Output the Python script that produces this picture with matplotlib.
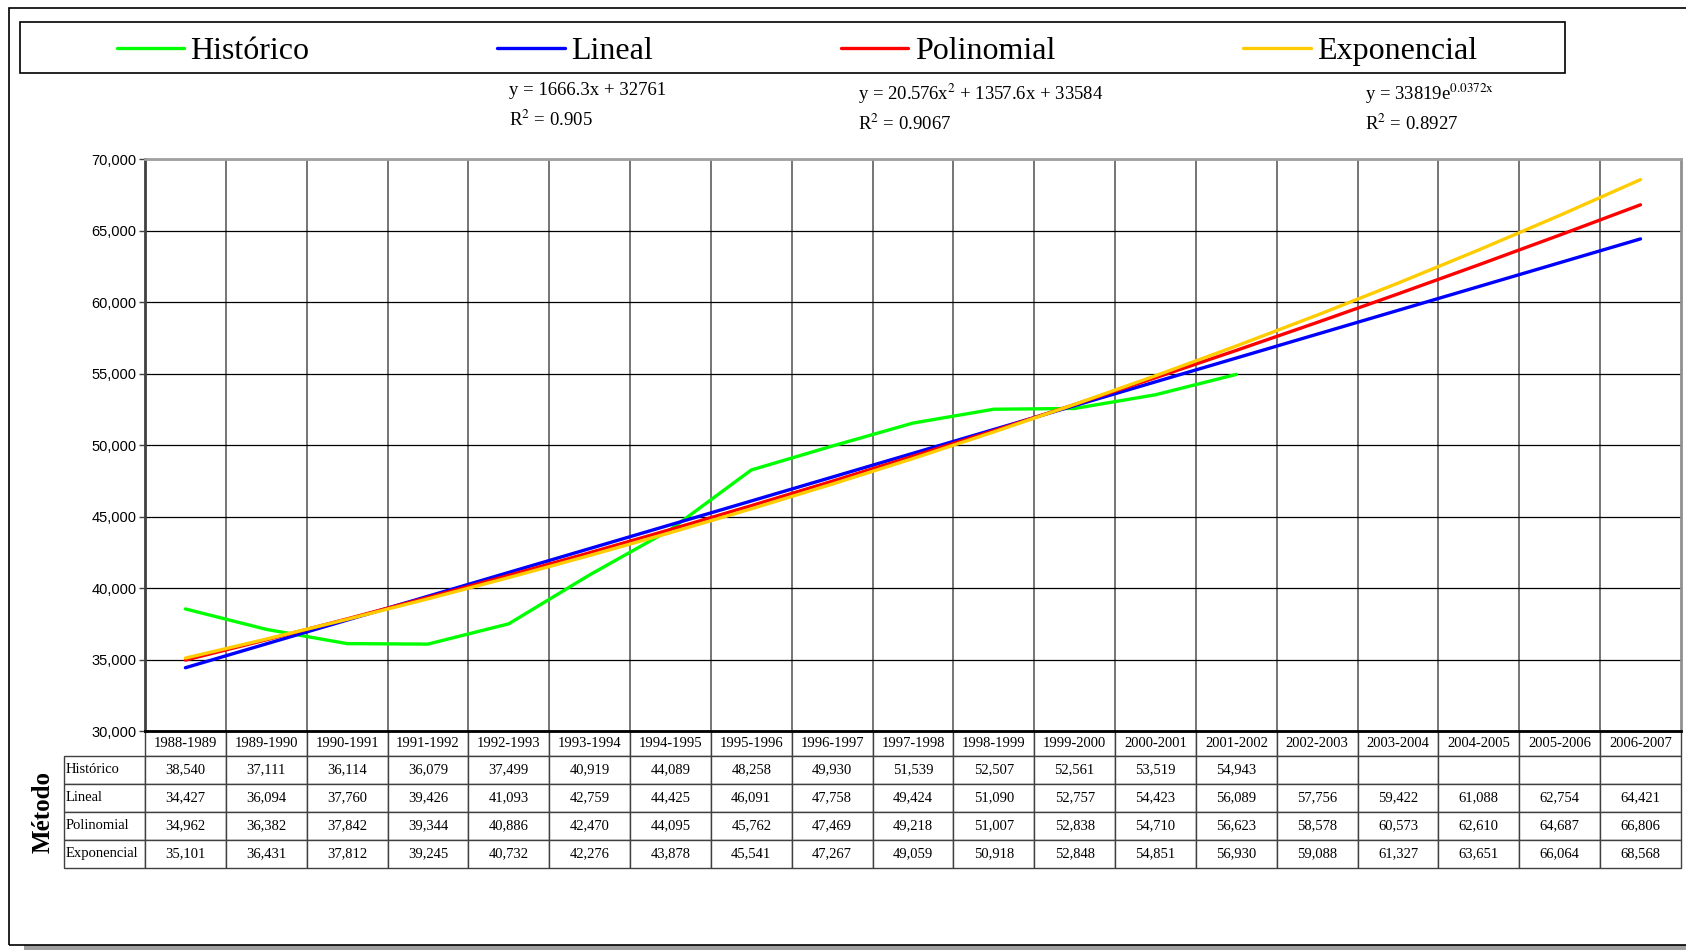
import matplotlib.pyplot as plt
import matplotlib.patches as mpatches
from matplotlib.ticker import FuncFormatter, MultipleLocator
import numpy as np

plt.rcParams['font.family'] = ['Liberation Serif', 'DejaVu Serif']
plt.rcParams['mathtext.fontset'] = 'stix'

periodos = ['1988-1989', '1989-1990', '1990-1991', '1991-1992', '1992-1993',
            '1993-1994', '1994-1995', '1995-1996', '1996-1997', '1997-1998',
            '1998-1999', '1999-2000', '2000-2001', '2001-2002', '2002-2003',
            '2003-2004', '2004-2005', '2005-2006', '2006-2007']
historico = [38540, 37111, 36114, 36079, 37499, 40919, 44089, 48258, 49930,
             51539, 52507, 52561, 53519, 54943]
lineal = [34427, 36094, 37760, 39426, 41093, 42759, 44425, 46091, 47758, 49424,
          51090, 52757, 54423, 56089, 57756, 59422, 61088, 62754, 64421]
polinomial = [34962, 36382, 37842, 39344, 40886, 42470, 44095, 45762, 47469,
              49218, 51007, 52838, 54710, 56623, 58578, 60573, 62610, 64687, 66806]
exponencial = [35101, 36431, 37812, 39245, 40732, 42276, 43878, 45541, 47267,
               49059, 50918, 52848, 54851, 56930, 59088, 61327, 63651, 66064, 68568]

nombres = ['Histórico', 'Lineal', 'Polinomial', 'Exponencial']
colores = ['#00ff00', '#0000ff', '#ff0000', '#ffcc00']
series = [historico, lineal, polinomial, exponencial]

fig = plt.figure(figsize=(16.86, 9.5), dpi=100)
ax = fig.add_axes([0.086, 0.2305, 0.911, 0.602])

x = np.arange(len(periodos))
lineas = []
for nom, col, s in zip(nombres, colores, series):
    l, = ax.plot(x[:len(s)], s, color=col, lw=2.4, label=nom, solid_capstyle='round')
    lineas.append(l)

ax.set_xlim(-0.5, len(periodos) - 0.5)
ax.set_ylim(30000, 70000)
ax.yaxis.set_major_locator(MultipleLocator(5000))
ax.yaxis.set_major_formatter(FuncFormatter(lambda v, p: '{:,.0f}'.format(v)))
for t in ax.get_yticklabels():
    t.set_fontfamily('Liberation Sans')
ax.tick_params(axis='y', labelsize=10.5, length=4, width=1, color='#404040', pad=2)
ax.set_xticks(np.arange(0.5, len(periodos) - 0.5, 1), minor=True)
ax.set_xticks([])
ax.tick_params(axis='x', which='both', length=0)
ax.grid(True, axis='y', color='black', lw=0.9)
ax.grid(True, axis='x', which='minor', color='#505050', lw=1.1)
ax.set_axisbelow(True)
ax.spines['top'].set_color('#a0a0a0')
ax.spines['right'].set_color('#909090')
ax.spines['left'].set_color('#404040')
ax.spines['bottom'].set_color('black')
for s in ax.spines.values():
    s.set_linewidth(2)

# tabla de datos
n = len(periodos)
filas = [historico + [''] * (n - len(historico)), lineal, polinomial, exponencial]
texto = [[('{:,}'.format(v) if v != '' else '') for v in f] for f in filas]
tabla = ax.table(cellText=texto, colLabels=periodos, colWidths=[1.0 / n] * n,
                 cellLoc='center', bbox=[0, -0.2387, 1, 0.2387])
for i, nom in enumerate(nombres):
    tabla.add_cell(i + 1, -1, width=1.0 / n, height=26, text=nom, loc='left')
tabla.auto_set_font_size(False)
tabla.set_fontsize(10.5)
for (r, c), cell in tabla.get_celld().items():
    cell.set_edgecolor('#404040')
    cell.set_linewidth(1)
    cell.set_height(23 if r == 0 else 26)
    if c == -1:
        cell.PAD = 0.02

# leyenda con marco
fig.patches.append(mpatches.Rectangle((0.0121, 0.923), 0.916, 0.054, transform=fig.transFigure,
                                      fill=False, edgecolor='black', lw=1.2))
fig.legend(handles=lineas, labels=nombres, loc='center', bbox_to_anchor=(0.4726, 0.946),
           ncol=4, frameon=False, fontsize=23, handlelength=2.1, handletextpad=0.2,
           columnspacing=5.9)

# ecuaciones de tendencia
fig.text(0.302, 0.8995, 'y = 1666.3x + 32761', fontsize=13.5, va='baseline')
fig.text(0.302, 0.867, 'R$^{2}$ = 0.905', fontsize=13.5, va='baseline')
fig.text(0.509, 0.8947, 'y = 20.576x$^{2}$ + 1357.6x + 33584', fontsize=13.5, va='baseline')
fig.text(0.509, 0.863, 'R$^{2}$ = 0.9067', fontsize=13.5, va='baseline')
fig.text(0.8096, 0.8947, 'y = 33819e$^{\\mathrm{0.0372x}}$', fontsize=13.5, va='baseline')
fig.text(0.8096, 0.863, 'R$^{2}$ = 0.8927', fontsize=13.5, va='baseline')

fig.text(0.0255, 0.1457, 'Método', rotation=90, fontsize=18, fontweight='bold',
         ha='center', va='center')

# marco exterior y sombra
fig.patches.append(mpatches.Rectangle((0.0145, 0.0), 1.0, 0.0055, transform=fig.transFigure,
                                      color='#a0a0a0', lw=0))
fig.patches.append(mpatches.Rectangle((0.0051, 0.0053), 1.2, 0.986, transform=fig.transFigure,
                                      fill=False, edgecolor='black', lw=1.2))

fig.savefig('out.png', dpi=100)
